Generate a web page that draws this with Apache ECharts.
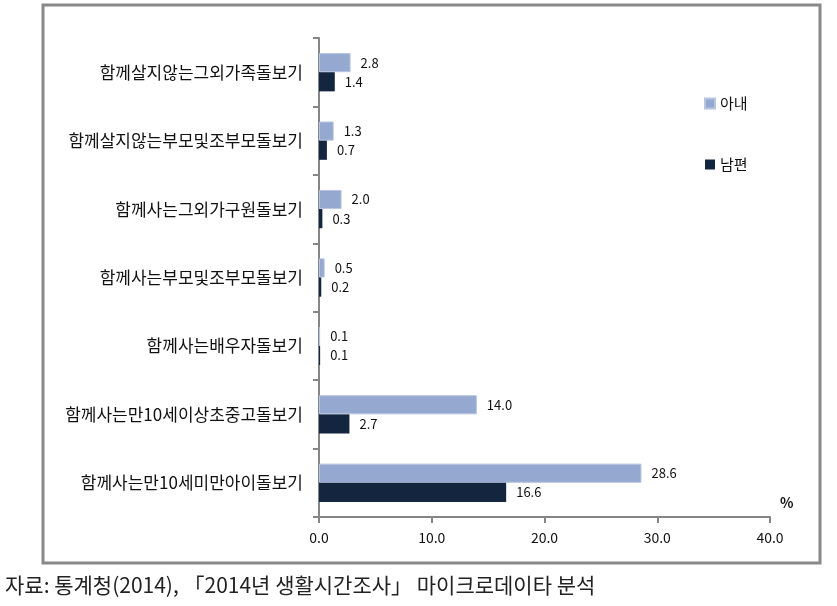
<!DOCTYPE html>
<html><head><meta charset="utf-8">
<script src="https://cdn.jsdelivr.net/npm/echarts@6/dist/echarts.min.js"></script>
<style>html,body{margin:0;padding:0;background:#fff}#c{width:837px;height:606px}</style>
</head><body><div id="c"></div>
<script>
const categories = ['함께살지않는그외가족돌보기','함께살지않는부모및조부모돌보기','함께사는그외가구원돌보기','함께사는부모및조부모돌보기','함께사는배우자돌보기','함께사는만10세이상초중고돌보기','함께사는만10세미만아이돌보기'];
const wife = [2.8, 1.3, 2.0, 0.5, 0.1, 14.0, 28.6];
const husband = [1.4, 0.7, 0.3, 0.2, 0.1, 2.7, 16.6];
const seriesNames = ['아내', '남편'];
const FONT = '"Noto Sans CJK KR", "Noto Sans", sans-serif';
const chart = echarts.init(document.getElementById('c'));
const lbl = {show:true, position:'right', distance:10, fontSize:13, color:'#111', fontFamily:FONT, formatter:p=>p.value.toFixed(1)};
chart.setOption({
  animation:false,
  textStyle:{fontFamily:FONT},
  grid:{left:319, right:67, top:38, bottom:89},
  legend:{orient:'vertical', left:699, top:91, itemWidth:10, itemHeight:10, itemGap:46, icon:'rect',
    textStyle:{fontSize:15, color:'#111', fontFamily:FONT}, data:seriesNames},
  xAxis:{type:'value', min:0, max:40, interval:10,
    axisLine:{show:true, lineStyle:{color:'#868686', width:2}},
    axisTick:{show:true, length:6, lineStyle:{color:'#868686', width:2}},
    splitLine:{show:false},
    axisLabel:{fontSize:14, color:'#111', margin:14, formatter:v=>v.toFixed(1)}},
  yAxis:{type:'category', data:categories, inverse:true,
    axisLine:{lineStyle:{color:'#868686', width:2}},
    axisTick:{show:true, length:6, lineStyle:{color:'#868686', width:2}},
    axisLabel:{fontSize:17, color:'#111', margin:16}},
  series:[
    {name:seriesNames[0], type:'bar', data:wife, barGap:'0%', barCategoryGap:'44%',
      itemStyle:{color:'#95a8d0', borderColor:'#b7c5e0', borderWidth:1}, label:lbl},
    {name:seriesNames[1], type:'bar', data:husband, barGap:'0%', barCategoryGap:'44%',
      itemStyle:{color:'#13253f'}, label:lbl}
  ],
  graphic:[
    {type:'rect', shape:{x:43, y:5, width:777, height:558}, style:{fill:'none', stroke:'#888', lineWidth:3}, z:-1},
    {type:'text', left:780, top:496, style:{text:'%', fontSize:14, fontWeight:'bold', fill:'#111', fontFamily:FONT}},
    {type:'text', left:5, top:575, style:{text:'자료: 통계청(2014), 「2014년 생활시간조사」 마이크로데이타 분석', fontSize:21, fill:'#222', fontFamily:FONT}}
  ]
});
</script></body></html>
